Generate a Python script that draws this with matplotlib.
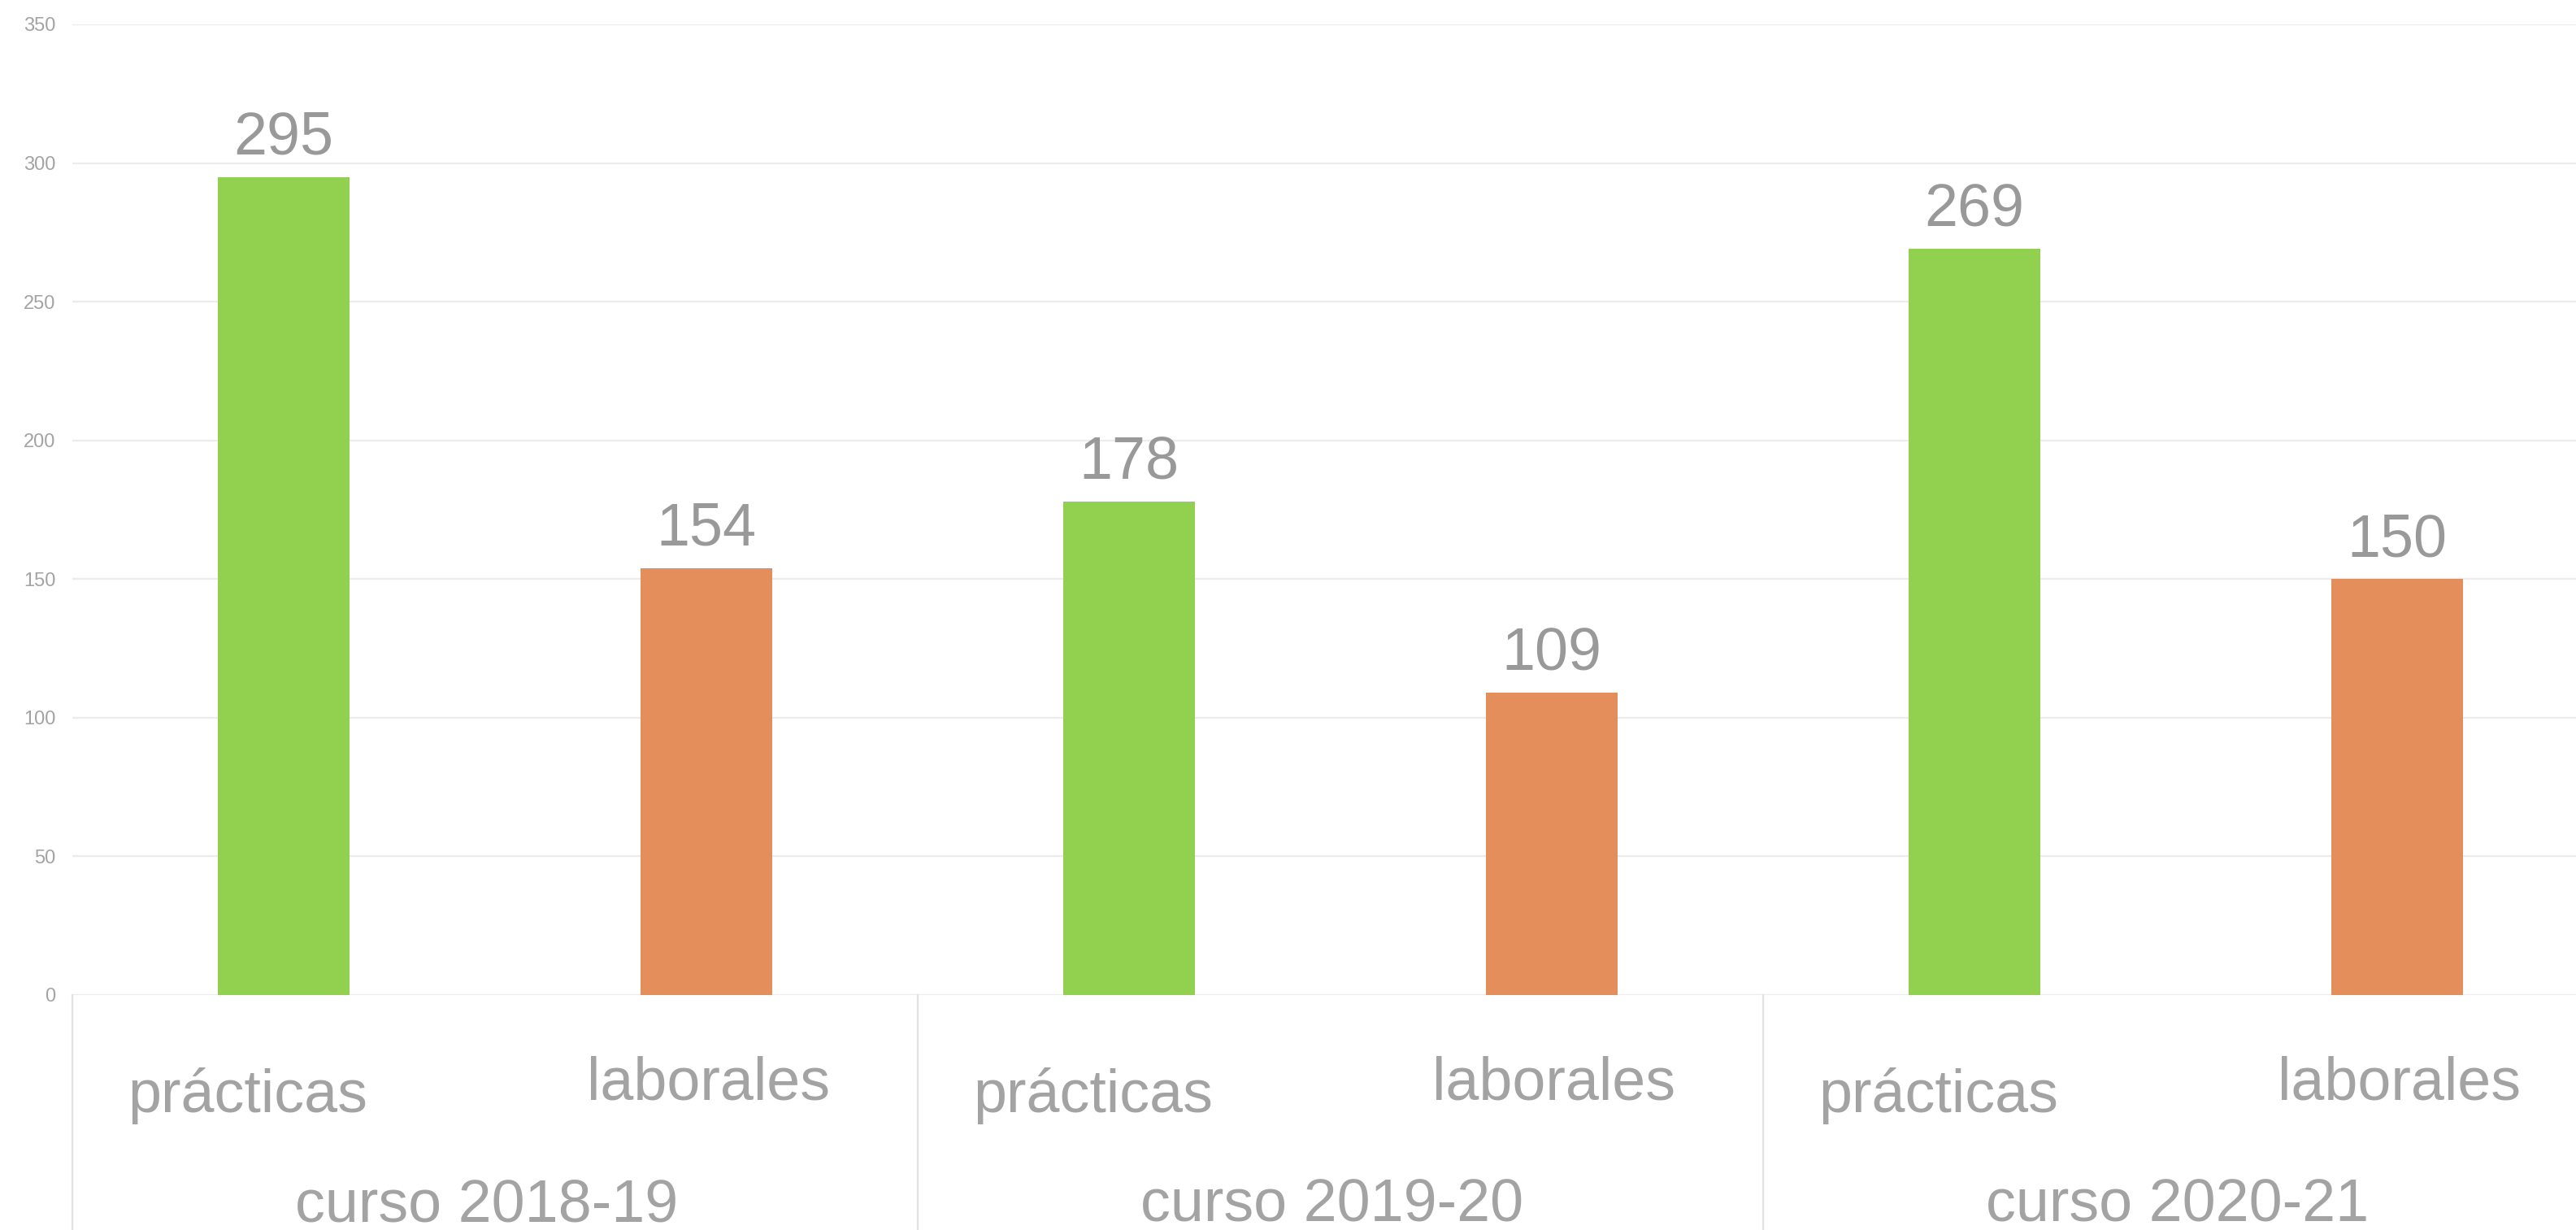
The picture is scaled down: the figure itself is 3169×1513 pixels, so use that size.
import matplotlib.pyplot as plt
from matplotlib import transforms

plt.rcParams['font.family'] = ['Liberation Sans', 'DejaVu Sans']

cursos = ['curso 2018-19', 'curso 2019-20', 'curso 2020-21']
tipos = ['prácticas', 'laborales']
practicas = [295, 178, 269]
laborales = [154, 109, 150]
yticks = [0, 50, 100, 150, 200, 250, 300, 350]

green = '#92d050'
orange = '#e48f5b'
label_grey = '#a3a3a3'
value_grey = '#999999'
grid_grey = '#ececec'

fig = plt.figure(figsize=(31.69, 15.13), dpi=100)
ax = fig.add_axes([89 / 3169, 289 / 1513, 3120 / 3169, 1194 / 1513])

xs_p = [2 * i for i in range(len(cursos))]
xs_l = [2 * i + 1 for i in range(len(cursos))]

ax.bar(xs_p, practicas, width=0.313, color=green, zorder=3)
ax.bar(xs_l, laborales, width=0.313, color=orange, zorder=3)

for x, v in list(zip(xs_p, practicas)) + list(zip(xs_l, laborales)):
    ax.annotate(str(v), (x, v), xytext=(0, 20), textcoords='offset points',
                ha='center', va='baseline', fontsize=53, color=value_grey)

ax.set_xlim(-0.5, 5.5)
ax.set_ylim(0, 350)
ax.set_yticks(yticks)
ax.set_yticklabels([str(t) for t in yticks], fontsize=17, color=label_grey)
ax.tick_params(axis='y', length=0, pad=15)
ax.set_xticks([])
ax.grid(axis='y', color=grid_grey, linewidth=1.6, zorder=0)
for s in ax.spines.values():
    s.set_visible(False)

trans = transforms.blended_transform_factory(ax.transData, ax.transAxes)

# group separators below the axis
for i in range(len(cursos)):
    ax.plot([2 * i - 0.5, 2 * i - 0.5], [0, -0.26], transform=trans,
            color='#e2e2e2', linewidth=1.6, clip_on=False)

# category labels
for i, c in enumerate(cursos):
    ax.text(xs_p[i] - 0.085, -0.1206, tipos[0], transform=trans, ha='center',
            va='baseline', fontsize=53, color=label_grey)
    ax.text(xs_l[i] + 0.005, -0.108, tipos[1], transform=trans, ha='center',
            va='baseline', fontsize=53, color=label_grey)
    ax.text(2 * i + 0.5 - 0.02, -0.233, c, transform=trans, ha='center',
            va='baseline', fontsize=53, color=label_grey)

fig.savefig('out.png', dpi=100)
